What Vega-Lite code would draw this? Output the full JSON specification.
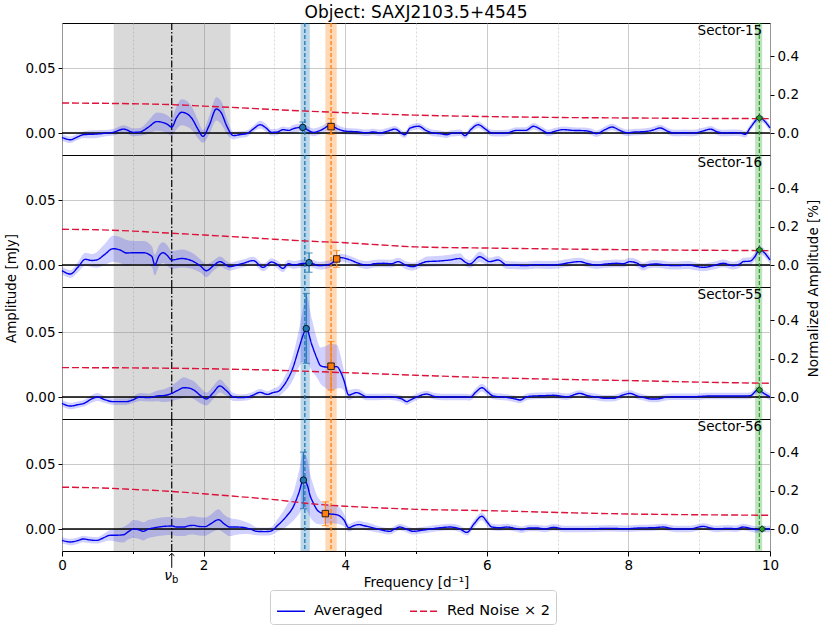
{
  "$schema": "https://vega.github.io/schema/vega-lite/v6.json",
  "padding": {"left": 4, "top": 3, "right": 5, "bottom": 5},
  "background": "white",
  "datasets": {
    "bands": [
      {"k": "grey", "a": 0.73, "b": 2.38, "c": 1.55},
      {"k": "b", "a": 3.37, "b": 3.50, "c": 3.43},
      {"k": "o", "a": 3.72, "b": 3.88, "c": 3.80},
      {"k": "g", "a": 9.79, "b": 9.89, "c": 9.85}
    ],
    "peaks": [
      {"s": 15, "k": "b", "f": 3.40, "v": 0.0043, "lo": 0.0003, "hi": 0.0085},
      {"s": 15, "k": "o", "f": 3.80, "v": 0.0049, "lo": -0.0010, "hi": 0.0110},
      {"s": 15, "k": "g", "f": 9.85, "v": 0.0116, "lo": 0.0106, "hi": 0.0126},
      {"s": 16, "k": "b", "f": 3.49, "v": 0.0018, "lo": -0.0056, "hi": 0.0093},
      {"s": 16, "k": "o", "f": 3.88, "v": 0.0047, "lo": -0.0018, "hi": 0.0112},
      {"s": 16, "k": "g", "f": 9.85, "v": 0.0116, "lo": 0.0106, "hi": 0.0126},
      {"s": 55, "k": "b", "f": 3.45, "v": 0.0529, "lo": 0.0260, "hi": 0.0800},
      {"s": 55, "k": "o", "f": 3.80, "v": 0.0238, "lo": 0.0054, "hi": 0.0429},
      {"s": 55, "k": "g", "f": 9.85, "v": 0.0054, "lo": 0.0040, "hi": 0.0068},
      {"s": 56, "k": "b", "f": 3.41, "v": 0.0378, "lo": 0.0158, "hi": 0.0594},
      {"s": 56, "k": "o", "f": 3.72, "v": 0.0119, "lo": 0.0026, "hi": 0.0210},
      {"s": 56, "k": "g", "f": 9.89, "v": 0.0000, "lo": -0.0015, "hi": 0.0015}
    ],
    "curves": [
      {"s":15,"n":"Averaged","f":0.00,"v":-0.0034,"e":0.0025},
      {"s":15,"n":"Averaged","f":0.12,"v":-0.0052,"e":0.0025},
      {"s":15,"n":"Averaged","f":0.22,"v":-0.0030,"e":0.0025},
      {"s":15,"n":"Averaged","f":0.30,"v":-0.0013,"e":0.0025},
      {"s":15,"n":"Averaged","f":0.40,"v":-0.0010,"e":0.003},
      {"s":15,"n":"Averaged","f":0.49,"v":-0.0008,"e":0.003},
      {"s":15,"n":"Averaged","f":0.60,"v":-0.0002,"e":0.0025},
      {"s":15,"n":"Averaged","f":0.72,"v":0.0005,"e":0.0025},
      {"s":15,"n":"Averaged","f":0.87,"v":0.0030,"e":0.003},
      {"s":15,"n":"Averaged","f":1.01,"v":0.0005,"e":0.003},
      {"s":15,"n":"Averaged","f":1.10,"v":0.0008,"e":0.003},
      {"s":15,"n":"Averaged","f":1.22,"v":0.0045,"e":0.005},
      {"s":15,"n":"Averaged","f":1.34,"v":0.0088,"e":0.007},
      {"s":15,"n":"Averaged","f":1.48,"v":0.0070,"e":0.007},
      {"s":15,"n":"Averaged","f":1.55,"v":0.0046,"e":0.007},
      {"s":15,"n":"Averaged","f":1.62,"v":0.0120,"e":0.009},
      {"s":15,"n":"Averaged","f":1.69,"v":0.0160,"e":0.010},
      {"s":15,"n":"Averaged","f":1.76,"v":0.0150,"e":0.010},
      {"s":15,"n":"Averaged","f":1.83,"v":0.0116,"e":0.009},
      {"s":15,"n":"Averaged","f":1.92,"v":0.0030,"e":0.007},
      {"s":15,"n":"Averaged","f":1.99,"v":-0.0026,"e":0.005},
      {"s":15,"n":"Averaged","f":2.08,"v":0.0060,"e":0.007},
      {"s":15,"n":"Averaged","f":2.18,"v":0.0186,"e":0.009},
      {"s":15,"n":"Averaged","f":2.25,"v":0.0155,"e":0.009},
      {"s":15,"n":"Averaged","f":2.33,"v":0.0050,"e":0.006},
      {"s":15,"n":"Averaged","f":2.42,"v":-0.0020,"e":0.003},
      {"s":15,"n":"Averaged","f":2.52,"v":-0.0012,"e":0.0025},
      {"s":15,"n":"Averaged","f":2.61,"v":-0.0005,"e":0.0025},
      {"s":15,"n":"Averaged","f":2.70,"v":0.0030,"e":0.0025},
      {"s":15,"n":"Averaged","f":2.80,"v":0.0064,"e":0.003},
      {"s":15,"n":"Averaged","f":2.88,"v":0.0040,"e":0.003},
      {"s":15,"n":"Averaged","f":2.96,"v":0.0005,"e":0.0025},
      {"s":15,"n":"Averaged","f":3.04,"v":0.0008,"e":0.0025},
      {"s":15,"n":"Averaged","f":3.12,"v":0.0026,"e":0.0025},
      {"s":15,"n":"Averaged","f":3.20,"v":0.0020,"e":0.0025},
      {"s":15,"n":"Averaged","f":3.27,"v":0.0034,"e":0.003},
      {"s":15,"n":"Averaged","f":3.40,"v":0.0044,"e":0.003},
      {"s":15,"n":"Averaged","f":3.48,"v":0.0020,"e":0.003},
      {"s":15,"n":"Averaged","f":3.55,"v":0.0005,"e":0.003},
      {"s":15,"n":"Averaged","f":3.65,"v":0.0020,"e":0.003},
      {"s":15,"n":"Averaged","f":3.79,"v":0.0057,"e":0.003},
      {"s":15,"n":"Averaged","f":3.90,"v":0.0030,"e":0.003},
      {"s":15,"n":"Averaged","f":4.02,"v":0.0013,"e":0.0025},
      {"s":15,"n":"Averaged","f":4.15,"v":0.0010,"e":0.0025},
      {"s":15,"n":"Averaged","f":4.30,"v":0.0002,"e":0.0025},
      {"s":15,"n":"Averaged","f":4.40,"v":0.0008,"e":0.0025},
      {"s":15,"n":"Averaged","f":4.49,"v":0.0000,"e":0.0025},
      {"s":15,"n":"Averaged","f":4.60,"v":0.0015,"e":0.0025},
      {"s":15,"n":"Averaged","f":4.70,"v":0.0030,"e":0.0025},
      {"s":15,"n":"Averaged","f":4.84,"v":-0.0013,"e":0.0025},
      {"s":15,"n":"Averaged","f":4.92,"v":0.0039,"e":0.0025},
      {"s":15,"n":"Averaged","f":5.04,"v":0.0052,"e":0.0025},
      {"s":15,"n":"Averaged","f":5.14,"v":0.0020,"e":0.0025},
      {"s":15,"n":"Averaged","f":5.24,"v":0.0000,"e":0.0025},
      {"s":15,"n":"Averaged","f":5.34,"v":-0.0005,"e":0.0025},
      {"s":15,"n":"Averaged","f":5.43,"v":-0.0013,"e":0.0025},
      {"s":15,"n":"Averaged","f":5.50,"v":-0.0003,"e":0.0025},
      {"s":15,"n":"Averaged","f":5.57,"v":0.0000,"e":0.0025},
      {"s":15,"n":"Averaged","f":5.63,"v":0.0002,"e":0.0025},
      {"s":15,"n":"Averaged","f":5.69,"v":-0.0020,"e":0.0025},
      {"s":15,"n":"Averaged","f":5.78,"v":0.0030,"e":0.0025},
      {"s":15,"n":"Averaged","f":5.88,"v":0.0064,"e":0.0025},
      {"s":15,"n":"Averaged","f":5.98,"v":0.0030,"e":0.0025},
      {"s":15,"n":"Averaged","f":6.07,"v":0.0000,"e":0.0025},
      {"s":15,"n":"Averaged","f":6.18,"v":-0.0002,"e":0.0025},
      {"s":15,"n":"Averaged","f":6.28,"v":0.0000,"e":0.0025},
      {"s":15,"n":"Averaged","f":6.42,"v":0.0020,"e":0.0025},
      {"s":15,"n":"Averaged","f":6.55,"v":0.0020,"e":0.0025},
      {"s":15,"n":"Averaged","f":6.66,"v":0.0052,"e":0.0025},
      {"s":15,"n":"Averaged","f":6.77,"v":0.0025,"e":0.0025},
      {"s":15,"n":"Averaged","f":6.87,"v":0.0000,"e":0.0025},
      {"s":15,"n":"Averaged","f":6.97,"v":0.0015,"e":0.0025},
      {"s":15,"n":"Averaged","f":7.08,"v":0.0026,"e":0.0025},
      {"s":15,"n":"Averaged","f":7.22,"v":0.0020,"e":0.0025},
      {"s":15,"n":"Averaged","f":7.37,"v":0.0018,"e":0.0025},
      {"s":15,"n":"Averaged","f":7.47,"v":0.0010,"e":0.0025},
      {"s":15,"n":"Averaged","f":7.55,"v":-0.0005,"e":0.0025},
      {"s":15,"n":"Averaged","f":7.65,"v":0.0020,"e":0.0025},
      {"s":15,"n":"Averaged","f":7.77,"v":0.0046,"e":0.0025},
      {"s":15,"n":"Averaged","f":7.88,"v":0.0020,"e":0.0025},
      {"s":15,"n":"Averaged","f":7.98,"v":0.0002,"e":0.0025},
      {"s":15,"n":"Averaged","f":8.10,"v":0.0008,"e":0.0025},
      {"s":15,"n":"Averaged","f":8.21,"v":0.0010,"e":0.0025},
      {"s":15,"n":"Averaged","f":8.33,"v":0.0020,"e":0.0025},
      {"s":15,"n":"Averaged","f":8.45,"v":0.0039,"e":0.0025},
      {"s":15,"n":"Averaged","f":8.55,"v":0.0015,"e":0.0025},
      {"s":15,"n":"Averaged","f":8.64,"v":0.0000,"e":0.0025},
      {"s":15,"n":"Averaged","f":8.80,"v":0.0002,"e":0.0025},
      {"s":15,"n":"Averaged","f":8.92,"v":0.0000,"e":0.0025},
      {"s":15,"n":"Averaged","f":9.05,"v":0.0015,"e":0.0025},
      {"s":15,"n":"Averaged","f":9.16,"v":0.0030,"e":0.0025},
      {"s":15,"n":"Averaged","f":9.25,"v":0.0010,"e":0.0025},
      {"s":15,"n":"Averaged","f":9.34,"v":0.0000,"e":0.0025},
      {"s":15,"n":"Averaged","f":9.46,"v":0.0002,"e":0.0025},
      {"s":15,"n":"Averaged","f":9.58,"v":0.0000,"e":0.0025},
      {"s":15,"n":"Averaged","f":9.65,"v":-0.0010,"e":0.0025},
      {"s":15,"n":"Averaged","f":9.72,"v":0.0040,"e":0.0025},
      {"s":15,"n":"Averaged","f":9.85,"v":0.0116,"e":0.0025},
      {"s":15,"n":"Averaged","f":10.00,"v":0.0039,"e":0.0025},

      {"s":16,"n":"Averaged","f":0.00,"v":-0.0044,"e":0.003},
      {"s":16,"n":"Averaged","f":0.12,"v":-0.0070,"e":0.003},
      {"s":16,"n":"Averaged","f":0.22,"v":-0.0020,"e":0.004},
      {"s":16,"n":"Averaged","f":0.33,"v":0.0044,"e":0.005},
      {"s":16,"n":"Averaged","f":0.42,"v":0.0035,"e":0.005},
      {"s":16,"n":"Averaged","f":0.49,"v":0.0039,"e":0.006},
      {"s":16,"n":"Averaged","f":0.60,"v":0.0080,"e":0.008},
      {"s":16,"n":"Averaged","f":0.72,"v":0.0126,"e":0.010},
      {"s":16,"n":"Averaged","f":0.82,"v":0.0116,"e":0.010},
      {"s":16,"n":"Averaged","f":0.91,"v":0.0093,"e":0.010},
      {"s":16,"n":"Averaged","f":1.02,"v":0.0095,"e":0.009},
      {"s":16,"n":"Averaged","f":1.15,"v":0.0095,"e":0.009},
      {"s":16,"n":"Averaged","f":1.27,"v":0.0065,"e":0.008},
      {"s":16,"n":"Averaged","f":1.31,"v":0.0000,"e":0.008},
      {"s":16,"n":"Averaged","f":1.37,"v":0.0070,"e":0.008},
      {"s":16,"n":"Averaged","f":1.43,"v":0.0095,"e":0.008},
      {"s":16,"n":"Averaged","f":1.48,"v":0.0077,"e":0.008},
      {"s":16,"n":"Averaged","f":1.55,"v":0.0039,"e":0.007},
      {"s":16,"n":"Averaged","f":1.69,"v":0.0050,"e":0.007},
      {"s":16,"n":"Averaged","f":1.86,"v":0.0026,"e":0.006},
      {"s":16,"n":"Averaged","f":1.96,"v":-0.0010,"e":0.005},
      {"s":16,"n":"Averaged","f":2.04,"v":-0.0044,"e":0.005},
      {"s":16,"n":"Averaged","f":2.14,"v":-0.0005,"e":0.004},
      {"s":16,"n":"Averaged","f":2.23,"v":0.0026,"e":0.004},
      {"s":16,"n":"Averaged","f":2.37,"v":-0.0013,"e":0.003},
      {"s":16,"n":"Averaged","f":2.47,"v":0.0000,"e":0.003},
      {"s":16,"n":"Averaged","f":2.56,"v":0.0013,"e":0.003},
      {"s":16,"n":"Averaged","f":2.70,"v":0.0034,"e":0.003},
      {"s":16,"n":"Averaged","f":2.84,"v":-0.0018,"e":0.003},
      {"s":16,"n":"Averaged","f":2.96,"v":0.0023,"e":0.003},
      {"s":16,"n":"Averaged","f":3.04,"v":0.0005,"e":0.003},
      {"s":16,"n":"Averaged","f":3.12,"v":-0.0026,"e":0.003},
      {"s":16,"n":"Averaged","f":3.20,"v":0.0010,"e":0.003},
      {"s":16,"n":"Averaged","f":3.27,"v":0.0000,"e":0.003},
      {"s":16,"n":"Averaged","f":3.38,"v":0.0010,"e":0.003},
      {"s":16,"n":"Averaged","f":3.50,"v":0.0015,"e":0.003},
      {"s":16,"n":"Averaged","f":3.64,"v":-0.0005,"e":0.003},
      {"s":16,"n":"Averaged","f":3.72,"v":0.0000,"e":0.003},
      {"s":16,"n":"Averaged","f":3.79,"v":0.0008,"e":0.003},
      {"s":16,"n":"Averaged","f":3.88,"v":0.0042,"e":0.003},
      {"s":16,"n":"Averaged","f":3.93,"v":0.0057,"e":0.003},
      {"s":16,"n":"Averaged","f":4.07,"v":0.0039,"e":0.003},
      {"s":16,"n":"Averaged","f":4.18,"v":0.0015,"e":0.003},
      {"s":16,"n":"Averaged","f":4.30,"v":0.0000,"e":0.003},
      {"s":16,"n":"Averaged","f":4.42,"v":0.0010,"e":0.003},
      {"s":16,"n":"Averaged","f":4.54,"v":0.0013,"e":0.003},
      {"s":16,"n":"Averaged","f":4.65,"v":0.0010,"e":0.003},
      {"s":16,"n":"Averaged","f":4.75,"v":0.0026,"e":0.003},
      {"s":16,"n":"Averaged","f":4.85,"v":0.0000,"e":0.003},
      {"s":16,"n":"Averaged","f":4.96,"v":-0.0013,"e":0.003},
      {"s":16,"n":"Averaged","f":5.06,"v":0.0010,"e":0.003},
      {"s":16,"n":"Averaged","f":5.15,"v":0.0026,"e":0.004},
      {"s":16,"n":"Averaged","f":5.30,"v":0.0030,"e":0.004},
      {"s":16,"n":"Averaged","f":5.48,"v":0.0039,"e":0.004},
      {"s":16,"n":"Averaged","f":5.62,"v":0.0050,"e":0.004},
      {"s":16,"n":"Averaged","f":5.70,"v":0.0020,"e":0.003},
      {"s":16,"n":"Averaged","f":5.76,"v":0.0008,"e":0.003},
      {"s":16,"n":"Averaged","f":5.90,"v":0.0064,"e":0.004},
      {"s":16,"n":"Averaged","f":6.04,"v":0.0026,"e":0.003},
      {"s":16,"n":"Averaged","f":6.16,"v":0.0039,"e":0.003},
      {"s":16,"n":"Averaged","f":6.28,"v":0.0000,"e":0.003},
      {"s":16,"n":"Averaged","f":6.42,"v":-0.0002,"e":0.003},
      {"s":16,"n":"Averaged","f":6.56,"v":-0.0005,"e":0.003},
      {"s":16,"n":"Averaged","f":6.70,"v":0.0003,"e":0.003},
      {"s":16,"n":"Averaged","f":6.89,"v":0.0000,"e":0.003},
      {"s":16,"n":"Averaged","f":7.03,"v":0.0005,"e":0.003},
      {"s":16,"n":"Averaged","f":7.17,"v":0.0018,"e":0.003},
      {"s":16,"n":"Averaged","f":7.31,"v":0.0026,"e":0.003},
      {"s":16,"n":"Averaged","f":7.43,"v":0.0010,"e":0.003},
      {"s":16,"n":"Averaged","f":7.55,"v":0.0000,"e":0.003},
      {"s":16,"n":"Averaged","f":7.69,"v":0.0008,"e":0.003},
      {"s":16,"n":"Averaged","f":7.83,"v":0.0013,"e":0.003},
      {"s":16,"n":"Averaged","f":7.93,"v":0.0010,"e":0.003},
      {"s":16,"n":"Averaged","f":8.02,"v":0.0026,"e":0.003},
      {"s":16,"n":"Averaged","f":8.12,"v":0.0015,"e":0.003},
      {"s":16,"n":"Averaged","f":8.21,"v":-0.0013,"e":0.003},
      {"s":16,"n":"Averaged","f":8.30,"v":0.0005,"e":0.003},
      {"s":16,"n":"Averaged","f":8.40,"v":0.0008,"e":0.003},
      {"s":16,"n":"Averaged","f":8.55,"v":-0.0002,"e":0.003},
      {"s":16,"n":"Averaged","f":8.68,"v":-0.0005,"e":0.003},
      {"s":16,"n":"Averaged","f":8.85,"v":0.0000,"e":0.003},
      {"s":16,"n":"Averaged","f":8.95,"v":-0.0010,"e":0.003},
      {"s":16,"n":"Averaged","f":9.06,"v":-0.0018,"e":0.003},
      {"s":16,"n":"Averaged","f":9.20,"v":-0.0005,"e":0.003},
      {"s":16,"n":"Averaged","f":9.34,"v":0.0013,"e":0.003},
      {"s":16,"n":"Averaged","f":9.48,"v":-0.0005,"e":0.003},
      {"s":16,"n":"Averaged","f":9.58,"v":0.0010,"e":0.003},
      {"s":16,"n":"Averaged","f":9.62,"v":0.0026,"e":0.003},
      {"s":16,"n":"Averaged","f":9.72,"v":0.0030,"e":0.003},
      {"s":16,"n":"Averaged","f":9.78,"v":0.0060,"e":0.003},
      {"s":16,"n":"Averaged","f":9.85,"v":0.0116,"e":0.003},
      {"s":16,"n":"Averaged","f":10.00,"v":0.0039,"e":0.003},

      {"s":55,"n":"Averaged","f":0.00,"v":-0.0049,"e":0.0025},
      {"s":55,"n":"Averaged","f":0.12,"v":-0.0070,"e":0.0025},
      {"s":55,"n":"Averaged","f":0.22,"v":-0.0060,"e":0.0025},
      {"s":55,"n":"Averaged","f":0.31,"v":-0.0049,"e":0.0025},
      {"s":55,"n":"Averaged","f":0.42,"v":-0.0015,"e":0.003},
      {"s":55,"n":"Averaged","f":0.50,"v":0.0000,"e":0.003},
      {"s":55,"n":"Averaged","f":0.60,"v":-0.0020,"e":0.0025},
      {"s":55,"n":"Averaged","f":0.72,"v":-0.0036,"e":0.0025},
      {"s":55,"n":"Averaged","f":0.91,"v":-0.0036,"e":0.0025},
      {"s":55,"n":"Averaged","f":1.01,"v":-0.0020,"e":0.0025},
      {"s":55,"n":"Averaged","f":1.10,"v":0.0000,"e":0.003},
      {"s":55,"n":"Averaged","f":1.22,"v":-0.0005,"e":0.003},
      {"s":55,"n":"Averaged","f":1.34,"v":0.0008,"e":0.004},
      {"s":55,"n":"Averaged","f":1.45,"v":0.0012,"e":0.005},
      {"s":55,"n":"Averaged","f":1.55,"v":0.0028,"e":0.006},
      {"s":55,"n":"Averaged","f":1.63,"v":0.0050,"e":0.007},
      {"s":55,"n":"Averaged","f":1.72,"v":0.0072,"e":0.008},
      {"s":55,"n":"Averaged","f":1.80,"v":0.0068,"e":0.007},
      {"s":55,"n":"Averaged","f":1.86,"v":0.0054,"e":0.007},
      {"s":55,"n":"Averaged","f":1.96,"v":0.0010,"e":0.006},
      {"s":55,"n":"Averaged","f":2.04,"v":-0.0015,"e":0.005},
      {"s":55,"n":"Averaged","f":2.13,"v":0.0030,"e":0.005},
      {"s":55,"n":"Averaged","f":2.23,"v":0.0085,"e":0.005},
      {"s":55,"n":"Averaged","f":2.32,"v":0.0050,"e":0.004},
      {"s":55,"n":"Averaged","f":2.42,"v":0.0000,"e":0.003},
      {"s":55,"n":"Averaged","f":2.52,"v":-0.0005,"e":0.0025},
      {"s":55,"n":"Averaged","f":2.61,"v":-0.0002,"e":0.0025},
      {"s":55,"n":"Averaged","f":2.70,"v":0.0015,"e":0.0025},
      {"s":55,"n":"Averaged","f":2.80,"v":0.0036,"e":0.0025},
      {"s":55,"n":"Averaged","f":2.90,"v":0.0020,"e":0.0025},
      {"s":55,"n":"Averaged","f":2.98,"v":0.0034,"e":0.003},
      {"s":55,"n":"Averaged","f":3.06,"v":0.0045,"e":0.004},
      {"s":55,"n":"Averaged","f":3.12,"v":0.0080,"e":0.005},
      {"s":55,"n":"Averaged","f":3.19,"v":0.0140,"e":0.007},
      {"s":55,"n":"Averaged","f":3.25,"v":0.0209,"e":0.009},
      {"s":55,"n":"Averaged","f":3.34,"v":0.0364,"e":0.014},
      {"s":55,"n":"Averaged","f":3.40,"v":0.0470,"e":0.020},
      {"s":55,"n":"Averaged","f":3.45,"v":0.0529,"e":0.026},
      {"s":55,"n":"Averaged","f":3.53,"v":0.0402,"e":0.020},
      {"s":55,"n":"Averaged","f":3.60,"v":0.0300,"e":0.015},
      {"s":55,"n":"Averaged","f":3.65,"v":0.0243,"e":0.014},
      {"s":55,"n":"Averaged","f":3.72,"v":0.0232,"e":0.016},
      {"s":55,"n":"Averaged","f":3.79,"v":0.0230,"e":0.018},
      {"s":55,"n":"Averaged","f":3.88,"v":0.0235,"e":0.017},
      {"s":55,"n":"Averaged","f":3.93,"v":0.0200,"e":0.013},
      {"s":55,"n":"Averaged","f":3.98,"v":0.0132,"e":0.008},
      {"s":55,"n":"Averaged","f":4.05,"v":0.0015,"e":0.004},
      {"s":55,"n":"Averaged","f":4.16,"v":0.0034,"e":0.003},
      {"s":55,"n":"Averaged","f":4.23,"v":0.0020,"e":0.003},
      {"s":55,"n":"Averaged","f":4.30,"v":0.0000,"e":0.0025},
      {"s":55,"n":"Averaged","f":4.45,"v":0.0000,"e":0.0025},
      {"s":55,"n":"Averaged","f":4.58,"v":0.0003,"e":0.0025},
      {"s":55,"n":"Averaged","f":4.68,"v":0.0000,"e":0.0025},
      {"s":55,"n":"Averaged","f":4.80,"v":-0.0015,"e":0.0025},
      {"s":55,"n":"Averaged","f":4.87,"v":-0.0036,"e":0.0025},
      {"s":55,"n":"Averaged","f":4.92,"v":-0.0023,"e":0.0025},
      {"s":55,"n":"Averaged","f":5.03,"v":0.0005,"e":0.0025},
      {"s":55,"n":"Averaged","f":5.15,"v":0.0023,"e":0.0025},
      {"s":55,"n":"Averaged","f":5.26,"v":0.0005,"e":0.0025},
      {"s":55,"n":"Averaged","f":5.38,"v":0.0000,"e":0.0025},
      {"s":55,"n":"Averaged","f":5.57,"v":0.0000,"e":0.0025},
      {"s":55,"n":"Averaged","f":5.70,"v":0.0000,"e":0.0025},
      {"s":55,"n":"Averaged","f":5.76,"v":-0.0003,"e":0.0025},
      {"s":55,"n":"Averaged","f":5.85,"v":0.0040,"e":0.003},
      {"s":55,"n":"Averaged","f":5.93,"v":0.0072,"e":0.003},
      {"s":55,"n":"Averaged","f":6.01,"v":0.0040,"e":0.003},
      {"s":55,"n":"Averaged","f":6.09,"v":0.0008,"e":0.0025},
      {"s":55,"n":"Averaged","f":6.28,"v":-0.0003,"e":0.0025},
      {"s":55,"n":"Averaged","f":6.40,"v":-0.0015,"e":0.0025},
      {"s":55,"n":"Averaged","f":6.47,"v":-0.0023,"e":0.0025},
      {"s":55,"n":"Averaged","f":6.56,"v":0.0000,"e":0.0025},
      {"s":55,"n":"Averaged","f":6.66,"v":0.0008,"e":0.0025},
      {"s":55,"n":"Averaged","f":6.80,"v":0.0010,"e":0.0025},
      {"s":55,"n":"Averaged","f":6.94,"v":0.0013,"e":0.0025},
      {"s":55,"n":"Averaged","f":7.13,"v":0.0002,"e":0.0025},
      {"s":55,"n":"Averaged","f":7.31,"v":0.0028,"e":0.0025},
      {"s":55,"n":"Averaged","f":7.43,"v":0.0010,"e":0.0025},
      {"s":55,"n":"Averaged","f":7.55,"v":0.0000,"e":0.0025},
      {"s":55,"n":"Averaged","f":7.67,"v":-0.0010,"e":0.0025},
      {"s":55,"n":"Averaged","f":7.79,"v":-0.0010,"e":0.0025},
      {"s":55,"n":"Averaged","f":7.92,"v":0.0015,"e":0.0025},
      {"s":55,"n":"Averaged","f":8.02,"v":0.0028,"e":0.0025},
      {"s":55,"n":"Averaged","f":8.12,"v":0.0010,"e":0.0025},
      {"s":55,"n":"Averaged","f":8.21,"v":-0.0003,"e":0.0025},
      {"s":55,"n":"Averaged","f":8.32,"v":-0.0015,"e":0.0025},
      {"s":55,"n":"Averaged","f":8.40,"v":-0.0015,"e":0.0025},
      {"s":55,"n":"Averaged","f":8.55,"v":0.0000,"e":0.0025},
      {"s":55,"n":"Averaged","f":8.68,"v":0.0002,"e":0.0025},
      {"s":55,"n":"Averaged","f":8.90,"v":0.0002,"e":0.0025},
      {"s":55,"n":"Averaged","f":9.16,"v":0.0008,"e":0.0025},
      {"s":55,"n":"Averaged","f":9.40,"v":0.0008,"e":0.0025},
      {"s":55,"n":"Averaged","f":9.62,"v":0.0008,"e":0.0025},
      {"s":55,"n":"Averaged","f":9.72,"v":0.0010,"e":0.0025},
      {"s":55,"n":"Averaged","f":9.83,"v":0.0054,"e":0.0025},
      {"s":55,"n":"Averaged","f":9.92,"v":0.0025,"e":0.0025},
      {"s":55,"n":"Averaged","f":10.00,"v":0.0000,"e":0.0025},

      {"s":56,"n":"Averaged","f":0.00,"v":-0.0088,"e":0.0025},
      {"s":56,"n":"Averaged","f":0.12,"v":-0.0100,"e":0.0025},
      {"s":56,"n":"Averaged","f":0.22,"v":-0.0090,"e":0.0025},
      {"s":56,"n":"Averaged","f":0.30,"v":-0.0077,"e":0.0025},
      {"s":56,"n":"Averaged","f":0.40,"v":-0.0085,"e":0.0025},
      {"s":56,"n":"Averaged","f":0.49,"v":-0.0088,"e":0.0025},
      {"s":56,"n":"Averaged","f":0.58,"v":-0.0070,"e":0.003},
      {"s":56,"n":"Averaged","f":0.67,"v":-0.0049,"e":0.004},
      {"s":56,"n":"Averaged","f":0.77,"v":-0.0048,"e":0.005},
      {"s":56,"n":"Averaged","f":0.87,"v":-0.0044,"e":0.006},
      {"s":56,"n":"Averaged","f":0.94,"v":-0.0020,"e":0.006},
      {"s":56,"n":"Averaged","f":1.01,"v":0.0000,"e":0.007},
      {"s":56,"n":"Averaged","f":1.08,"v":-0.0005,"e":0.007},
      {"s":56,"n":"Averaged","f":1.15,"v":-0.0018,"e":0.007},
      {"s":56,"n":"Averaged","f":1.22,"v":0.0000,"e":0.007},
      {"s":56,"n":"Averaged","f":1.29,"v":0.0008,"e":0.007},
      {"s":56,"n":"Averaged","f":1.36,"v":0.0015,"e":0.007},
      {"s":56,"n":"Averaged","f":1.43,"v":0.0020,"e":0.007},
      {"s":56,"n":"Averaged","f":1.55,"v":0.0023,"e":0.007},
      {"s":56,"n":"Averaged","f":1.63,"v":0.0015,"e":0.007},
      {"s":56,"n":"Averaged","f":1.72,"v":0.0015,"e":0.007},
      {"s":56,"n":"Averaged","f":1.79,"v":0.0025,"e":0.007},
      {"s":56,"n":"Averaged","f":1.86,"v":0.0028,"e":0.007},
      {"s":56,"n":"Averaged","f":1.93,"v":0.0020,"e":0.007},
      {"s":56,"n":"Averaged","f":2.02,"v":0.0018,"e":0.007},
      {"s":56,"n":"Averaged","f":2.10,"v":0.0040,"e":0.007},
      {"s":56,"n":"Averaged","f":2.21,"v":0.0072,"e":0.008},
      {"s":56,"n":"Averaged","f":2.29,"v":0.0040,"e":0.007},
      {"s":56,"n":"Averaged","f":2.37,"v":0.0015,"e":0.007},
      {"s":56,"n":"Averaged","f":2.47,"v":0.0015,"e":0.006},
      {"s":56,"n":"Averaged","f":2.56,"v":0.0012,"e":0.005},
      {"s":56,"n":"Averaged","f":2.66,"v":0.0000,"e":0.004},
      {"s":56,"n":"Averaged","f":2.75,"v":-0.0018,"e":0.003},
      {"s":56,"n":"Averaged","f":2.86,"v":-0.0020,"e":0.003},
      {"s":56,"n":"Averaged","f":2.94,"v":-0.0018,"e":0.003},
      {"s":56,"n":"Averaged","f":3.05,"v":0.0030,"e":0.005},
      {"s":56,"n":"Averaged","f":3.17,"v":0.0098,"e":0.008},
      {"s":56,"n":"Averaged","f":3.27,"v":0.0175,"e":0.011},
      {"s":56,"n":"Averaged","f":3.34,"v":0.0270,"e":0.016},
      {"s":56,"n":"Averaged","f":3.41,"v":0.0377,"e":0.021},
      {"s":56,"n":"Averaged","f":3.47,"v":0.0330,"e":0.020},
      {"s":56,"n":"Averaged","f":3.50,"v":0.0266,"e":0.017},
      {"s":56,"n":"Averaged","f":3.55,"v":0.0200,"e":0.014},
      {"s":56,"n":"Averaged","f":3.60,"v":0.0150,"e":0.011},
      {"s":56,"n":"Averaged","f":3.66,"v":0.0125,"e":0.009},
      {"s":56,"n":"Averaged","f":3.72,"v":0.0119,"e":0.008},
      {"s":56,"n":"Averaged","f":3.80,"v":0.0115,"e":0.007},
      {"s":56,"n":"Averaged","f":3.88,"v":0.0110,"e":0.007},
      {"s":56,"n":"Averaged","f":3.98,"v":0.0072,"e":0.005},
      {"s":56,"n":"Averaged","f":4.05,"v":0.0010,"e":0.003},
      {"s":56,"n":"Averaged","f":4.12,"v":0.0025,"e":0.003},
      {"s":56,"n":"Averaged","f":4.19,"v":0.0034,"e":0.003},
      {"s":56,"n":"Averaged","f":4.27,"v":0.0025,"e":0.003},
      {"s":56,"n":"Averaged","f":4.35,"v":0.0015,"e":0.003},
      {"s":56,"n":"Averaged","f":4.49,"v":-0.0005,"e":0.0025},
      {"s":56,"n":"Averaged","f":4.63,"v":-0.0018,"e":0.0025},
      {"s":56,"n":"Averaged","f":4.70,"v":0.0000,"e":0.0025},
      {"s":56,"n":"Averaged","f":4.77,"v":0.0015,"e":0.0025},
      {"s":56,"n":"Averaged","f":4.86,"v":0.0000,"e":0.0025},
      {"s":56,"n":"Averaged","f":4.96,"v":-0.0018,"e":0.0025},
      {"s":56,"n":"Averaged","f":5.08,"v":-0.0010,"e":0.0025},
      {"s":56,"n":"Averaged","f":5.21,"v":0.0000,"e":0.0025},
      {"s":56,"n":"Averaged","f":5.35,"v":0.0010,"e":0.0025},
      {"s":56,"n":"Averaged","f":5.48,"v":0.0015,"e":0.0025},
      {"s":56,"n":"Averaged","f":5.60,"v":0.0005,"e":0.0025},
      {"s":56,"n":"Averaged","f":5.72,"v":-0.0026,"e":0.0025},
      {"s":56,"n":"Averaged","f":5.82,"v":0.0040,"e":0.003},
      {"s":56,"n":"Averaged","f":5.93,"v":0.0098,"e":0.003},
      {"s":56,"n":"Averaged","f":6.01,"v":0.0050,"e":0.003},
      {"s":56,"n":"Averaged","f":6.07,"v":0.0015,"e":0.0025},
      {"s":56,"n":"Averaged","f":6.18,"v":0.0010,"e":0.0025},
      {"s":56,"n":"Averaged","f":6.28,"v":0.0015,"e":0.0025},
      {"s":56,"n":"Averaged","f":6.40,"v":0.0005,"e":0.0025},
      {"s":56,"n":"Averaged","f":6.49,"v":-0.0005,"e":0.0025},
      {"s":56,"n":"Averaged","f":6.60,"v":0.0008,"e":0.0025},
      {"s":56,"n":"Averaged","f":6.70,"v":0.0008,"e":0.0025},
      {"s":56,"n":"Averaged","f":6.82,"v":0.0000,"e":0.0025},
      {"s":56,"n":"Averaged","f":6.94,"v":0.0013,"e":0.0025},
      {"s":56,"n":"Averaged","f":7.10,"v":0.0000,"e":0.0025},
      {"s":56,"n":"Averaged","f":7.27,"v":0.0000,"e":0.0025},
      {"s":56,"n":"Averaged","f":7.50,"v":0.0002,"e":0.0025},
      {"s":56,"n":"Averaged","f":7.74,"v":0.0005,"e":0.0025},
      {"s":56,"n":"Averaged","f":7.95,"v":0.0002,"e":0.0025},
      {"s":56,"n":"Averaged","f":8.16,"v":0.0008,"e":0.0025},
      {"s":56,"n":"Averaged","f":8.35,"v":0.0010,"e":0.0025},
      {"s":56,"n":"Averaged","f":8.49,"v":0.0015,"e":0.0025},
      {"s":56,"n":"Averaged","f":8.60,"v":0.0005,"e":0.0025},
      {"s":56,"n":"Averaged","f":8.68,"v":0.0000,"e":0.0025},
      {"s":56,"n":"Averaged","f":8.85,"v":0.0000,"e":0.0025},
      {"s":56,"n":"Averaged","f":9.06,"v":0.0020,"e":0.0025},
      {"s":56,"n":"Averaged","f":9.16,"v":0.0008,"e":0.0025},
      {"s":56,"n":"Averaged","f":9.25,"v":0.0000,"e":0.0025},
      {"s":56,"n":"Averaged","f":9.40,"v":0.0005,"e":0.0025},
      {"s":56,"n":"Averaged","f":9.52,"v":0.0002,"e":0.0025},
      {"s":56,"n":"Averaged","f":9.62,"v":0.0015,"e":0.0025},
      {"s":56,"n":"Averaged","f":9.72,"v":0.0005,"e":0.0025},
      {"s":56,"n":"Averaged","f":9.81,"v":-0.0005,"e":0.0025},
      {"s":56,"n":"Averaged","f":9.90,"v":0.0000,"e":0.0025},
      {"s":56,"n":"Averaged","f":10.00,"v":0.0000,"e":0.0025},

      {"s":15,"n":"Red Noise × 2","f":0,"v":0.0232},
      {"s":15,"n":"Red Noise × 2","f":1,"v":0.0226},
      {"s":15,"n":"Red Noise × 2","f":1.5,"v":0.0220},
      {"s":15,"n":"Red Noise × 2","f":2,"v":0.0208},
      {"s":15,"n":"Red Noise × 2","f":2.5,"v":0.0195},
      {"s":15,"n":"Red Noise × 2","f":3,"v":0.0181},
      {"s":15,"n":"Red Noise × 2","f":3.5,"v":0.0168},
      {"s":15,"n":"Red Noise × 2","f":4,"v":0.0157},
      {"s":15,"n":"Red Noise × 2","f":4.5,"v":0.0146},
      {"s":15,"n":"Red Noise × 2","f":5,"v":0.0138},
      {"s":15,"n":"Red Noise × 2","f":6,"v":0.0127},
      {"s":15,"n":"Red Noise × 2","f":7,"v":0.0120},
      {"s":15,"n":"Red Noise × 2","f":8,"v":0.0116},
      {"s":15,"n":"Red Noise × 2","f":9,"v":0.0113},
      {"s":15,"n":"Red Noise × 2","f":10,"v":0.0111},
      {"s":16,"n":"Red Noise × 2","f":0,"v":0.0276},
      {"s":16,"n":"Red Noise × 2","f":0.5,"v":0.0272},
      {"s":16,"n":"Red Noise × 2","f":1,"v":0.0262},
      {"s":16,"n":"Red Noise × 2","f":1.5,"v":0.0247},
      {"s":16,"n":"Red Noise × 2","f":2,"v":0.0232},
      {"s":16,"n":"Red Noise × 2","f":2.5,"v":0.0216},
      {"s":16,"n":"Red Noise × 2","f":3,"v":0.0199},
      {"s":16,"n":"Red Noise × 2","f":3.5,"v":0.0184},
      {"s":16,"n":"Red Noise × 2","f":4,"v":0.0172},
      {"s":16,"n":"Red Noise × 2","f":4.5,"v":0.0155},
      {"s":16,"n":"Red Noise × 2","f":5,"v":0.0140},
      {"s":16,"n":"Red Noise × 2","f":6,"v":0.0131},
      {"s":16,"n":"Red Noise × 2","f":7,"v":0.0124},
      {"s":16,"n":"Red Noise × 2","f":8,"v":0.0118},
      {"s":16,"n":"Red Noise × 2","f":9,"v":0.0114},
      {"s":16,"n":"Red Noise × 2","f":10,"v":0.0111},
      {"s":55,"n":"Red Noise × 2","f":0,"v":0.0227},
      {"s":55,"n":"Red Noise × 2","f":1,"v":0.0225},
      {"s":55,"n":"Red Noise × 2","f":2,"v":0.0219},
      {"s":55,"n":"Red Noise × 2","f":3,"v":0.0207},
      {"s":55,"n":"Red Noise × 2","f":4,"v":0.0188},
      {"s":55,"n":"Red Noise × 2","f":5,"v":0.0168},
      {"s":55,"n":"Red Noise × 2","f":6,"v":0.0150},
      {"s":55,"n":"Red Noise × 2","f":7,"v":0.0137},
      {"s":55,"n":"Red Noise × 2","f":8,"v":0.0127},
      {"s":55,"n":"Red Noise × 2","f":9,"v":0.0115},
      {"s":55,"n":"Red Noise × 2","f":10,"v":0.0106},
      {"s":56,"n":"Red Noise × 2","f":0,"v":0.0323},
      {"s":56,"n":"Red Noise × 2","f":0.5,"v":0.0318},
      {"s":56,"n":"Red Noise × 2","f":1,"v":0.0306},
      {"s":56,"n":"Red Noise × 2","f":1.5,"v":0.0292},
      {"s":56,"n":"Red Noise × 2","f":2,"v":0.0272},
      {"s":56,"n":"Red Noise × 2","f":2.5,"v":0.0250},
      {"s":56,"n":"Red Noise × 2","f":3,"v":0.0227},
      {"s":56,"n":"Red Noise × 2","f":3.5,"v":0.0196},
      {"s":56,"n":"Red Noise × 2","f":4,"v":0.0176},
      {"s":56,"n":"Red Noise × 2","f":4.5,"v":0.0163},
      {"s":56,"n":"Red Noise × 2","f":5,"v":0.0152},
      {"s":56,"n":"Red Noise × 2","f":6,"v":0.0142},
      {"s":56,"n":"Red Noise × 2","f":7,"v":0.0128},
      {"s":56,"n":"Red Noise × 2","f":8,"v":0.0116},
      {"s":56,"n":"Red Noise × 2","f":9,"v":0.0110},
      {"s":56,"n":"Red Noise × 2","f":10,"v":0.0106}
    ]
  },
  "vconcat": [
    {
      "width": 708, "height": 132,
      "title": {"text": "Object: SAXJ2103.5+4545", "fontSize": 17, "fontWeight": "normal", "anchor": "middle", "frame": "group", "offset": 0},
      "layer": [
        {
          "layer": [
            {"data": {"name": "bands"}, "mark": {"type": "rect", "opacity": 0.3},
             "encoding": {
               "x": {"field": "a", "type": "quantitative", "scale": {"domain": [0, 10], "nice": false, "zero": false},
                     "axis": {"values": [0,0.5,1,1.5,2,2.5,3,3.5,4,4.5,5,5.5,6,6.5,7,7.5,8,8.5,9,9.5,10], "labels": false, "ticks": false, "title": null, "grid": true, "gridWidth": 0.8,
                              "gridColor": {"condition": {"test": "datum.value % 2 === 0", "value": "#bdbdbd"}, "value": "#cfcfcf"},
                              "gridDash": {"condition": {"test": "datum.value % 2 === 0", "value": []}, "value": [2, 2]}}},
               "x2": {"field": "b"},
               "fill": {"field": "k", "type": "nominal", "scale": {"domain": ["grey","b","o","g"], "range": ["#808080","#1f77b4","#ff7f0e","#2ca02c"]}, "legend": null}
             }},
            {"data": {"name": "curves"}, "transform": [{"filter": "datum.s === 15 && datum.n === 'Averaged'"}],
             "mark": {"type": "errorband", "color": "blue", "opacity": 0.18, "interpolate": "monotone"},
             "encoding": {"x": {"field": "f", "type": "quantitative"}, "y": {"field": "v", "type": "quantitative", "title": null}, "yError": {"field": "e"}}},
            {"data": {"values": [{}]}, "mark": {"type": "rule", "color": "black", "strokeWidth": 1.5}, "encoding": {"y": {"datum": 0}}},
            {"data": {"name": "bands"}, "transform": [{"filter": "datum.k !== 'grey'"}],
             "mark": {"type": "rule", "strokeDash": [4, 2], "strokeWidth": 1.3},
             "encoding": {"x": {"field": "c", "type": "quantitative"}, "stroke": {"field": "k", "type": "nominal", "scale": {"domain": ["b","o","g"], "range": ["#1f77b4","#ff7f0e","#2ca02c"]}, "legend": null}}},
            {"data": {"name": "bands"}, "transform": [{"filter": "datum.k === 'grey'"}],
             "mark": {"type": "rule", "color": "black", "strokeDash": [7, 2, 1.5, 2], "strokeWidth": 1.2},
             "encoding": {"x": {"field": "c", "type": "quantitative"}}},
            {"data": {"name": "curves"}, "transform": [{"filter": "datum.s === 15"}],
             "mark": {"type": "line", "strokeWidth": 1.4, "interpolate": "monotone"},
             "encoding": {
               "x": {"field": "f", "type": "quantitative"},
               "y": {"field": "v", "type": "quantitative", "scale": {"domain": [-0.017, 0.085], "nice": false, "zero": false},
                     "axis": {"values": [0, 0.05], "format": ".2f", "grid": true, "gridColor": "#bdbdbd", "gridWidth": 0.8, "tickSize": 4, "labelPadding": 3, "title": null}},
               "color": {"field": "n", "type": "nominal", "scale": {"domain": ["Averaged", "Red Noise × 2"], "range": ["#0000ee", "#dc143c"]},
                         "legend": {"title": null, "orient": "none", "legendX": 208, "legendY": 567, "direction": "horizontal", "symbolType": "stroke", "symbolSize": 780, "symbolStrokeWidth": 1.5, "labelFontSize": 14.5, "strokeColor": "#cccccc", "cornerRadius": 3, "padding": 6, "columnPadding": 24, "labelOffset": 8, "fillColor": "white"}},
               "strokeDash": {"field": "n", "type": "nominal", "scale": {"domain": ["Averaged", "Red Noise × 2"], "range": [[1, 0], [7, 3]]},
                         "legend": {"title": null, "orient": "none", "legendX": 208, "legendY": 567, "direction": "horizontal", "symbolType": "stroke", "symbolSize": 780, "symbolStrokeWidth": 1.5, "labelFontSize": 14.5, "strokeColor": "#cccccc", "cornerRadius": 3, "padding": 6, "columnPadding": 24, "labelOffset": 8, "fillColor": "white"}}
             }},
            {"data": {"name": "peaks"}, "transform": [{"filter": "datum.s === 15"}],
             "mark": {"type": "rule", "strokeWidth": 1.2},
             "encoding": {"x": {"field": "f", "type": "quantitative"}, "y": {"field": "lo", "type": "quantitative"}, "y2": {"field": "hi"}, "stroke": {"field": "k", "type": "nominal", "legend": null}}},
            {"data": {"name": "peaks"}, "transform": [{"filter": "datum.s === 15"}],
             "mark": {"type": "tick", "orient": "horizontal", "size": 7, "thickness": 1.2},
             "encoding": {"x": {"field": "f", "type": "quantitative"}, "y": {"field": "lo", "type": "quantitative"}, "fill": {"field": "k", "type": "nominal", "legend": null}}},
            {"data": {"name": "peaks"}, "transform": [{"filter": "datum.s === 15"}],
             "mark": {"type": "tick", "orient": "horizontal", "size": 7, "thickness": 1.2},
             "encoding": {"x": {"field": "f", "type": "quantitative"}, "y": {"field": "hi", "type": "quantitative"}, "fill": {"field": "k", "type": "nominal", "legend": null}}},
            {"data": {"name": "peaks"}, "transform": [{"filter": "datum.s === 15"}],
             "mark": {"type": "point", "filled": true, "stroke": "black", "strokeWidth": 0.8, "size": 42, "opacity": 1},
             "encoding": {"x": {"field": "f", "type": "quantitative"}, "y": {"field": "v", "type": "quantitative"},
                          "fill": {"field": "k", "type": "nominal", "legend": null},
                          "shape": {"field": "k", "type": "nominal", "scale": {"domain": ["b","o","g"], "range": ["circle","square","diamond"]}, "legend": null}}},
            {"data": {"values": [{"t": "Sector-15"}]}, "mark": {"type": "text", "align": "right", "baseline": "top", "fontSize": 13.5, "dy": 1},
             "encoding": {"x": {"datum": 9.89}, "y": {"datum": 0.085}, "text": {"field": "t"}}}
          ]
        },
        {"data": {"values": [{}]}, "mark": {"type": "point", "opacity": 0},
         "encoding": {"y": {"datum": 0, "type": "quantitative", "scale": {"domain": [-0.1147, 0.5735], "nice": false, "zero": false},
                            "axis": {"orient": "right", "values": [0, 0.2, 0.4], "format": ".1f", "grid": false, "tickSize": 4, "labelPadding": 3, "title": null}}}}
      ],
      "resolve": {"scale": {"y": "independent"}}
    },
    {
      "width": 708, "height": 132,
      "layer": [
        {
          "layer": [
            {"data": {"name": "bands"}, "mark": {"type": "rect", "opacity": 0.3},
             "encoding": {
               "x": {"field": "a", "type": "quantitative", "scale": {"domain": [0, 10], "nice": false, "zero": false},
                     "axis": {"values": [0,0.5,1,1.5,2,2.5,3,3.5,4,4.5,5,5.5,6,6.5,7,7.5,8,8.5,9,9.5,10], "labels": false, "ticks": false, "title": null, "grid": true, "gridWidth": 0.8,
                              "gridColor": {"condition": {"test": "datum.value % 2 === 0", "value": "#bdbdbd"}, "value": "#cfcfcf"},
                              "gridDash": {"condition": {"test": "datum.value % 2 === 0", "value": []}, "value": [2, 2]}}},
               "x2": {"field": "b"},
               "fill": {"field": "k", "type": "nominal", "scale": {"domain": ["grey","b","o","g"], "range": ["#808080","#1f77b4","#ff7f0e","#2ca02c"]}, "legend": null}
             }},
            {"data": {"name": "curves"}, "transform": [{"filter": "datum.s === 16 && datum.n === 'Averaged'"}],
             "mark": {"type": "errorband", "color": "blue", "opacity": 0.18, "interpolate": "monotone"},
             "encoding": {"x": {"field": "f", "type": "quantitative"}, "y": {"field": "v", "type": "quantitative", "title": "Amplitude [mJy]"}, "yError": {"field": "e"}}},
            {"data": {"values": [{}]}, "mark": {"type": "rule", "color": "black", "strokeWidth": 1.5}, "encoding": {"y": {"datum": 0}}},
            {"data": {"name": "bands"}, "transform": [{"filter": "datum.k !== 'grey'"}],
             "mark": {"type": "rule", "strokeDash": [4, 2], "strokeWidth": 1.3},
             "encoding": {"x": {"field": "c", "type": "quantitative"}, "stroke": {"field": "k", "type": "nominal", "scale": {"domain": ["b","o","g"], "range": ["#1f77b4","#ff7f0e","#2ca02c"]}, "legend": null}}},
            {"data": {"name": "bands"}, "transform": [{"filter": "datum.k === 'grey'"}],
             "mark": {"type": "rule", "color": "black", "strokeDash": [7, 2, 1.5, 2], "strokeWidth": 1.2},
             "encoding": {"x": {"field": "c", "type": "quantitative"}}},
            {"data": {"name": "curves"}, "transform": [{"filter": "datum.s === 16"}],
             "mark": {"type": "line", "strokeWidth": 1.4, "interpolate": "monotone"},
             "encoding": {
               "x": {"field": "f", "type": "quantitative"},
               "y": {"field": "v", "type": "quantitative", "title": "Amplitude [mJy]", "scale": {"domain": [-0.017, 0.085], "nice": false, "zero": false},
                     "axis": {"values": [0, 0.05], "format": ".2f", "grid": true, "gridColor": "#bdbdbd", "gridWidth": 0.8, "tickSize": 4, "labelPadding": 3, "title": "Amplitude [mJy]", "titleY": 133, "titlePadding": 6}},
               "color": {"field": "n", "type": "nominal", "scale": {"domain": ["Averaged", "Red Noise × 2"], "range": ["#0000ee", "#dc143c"]},
                         "legend": {"title": null, "orient": "none", "legendX": 208, "legendY": 567, "direction": "horizontal", "symbolType": "stroke", "symbolSize": 780, "symbolStrokeWidth": 1.5, "labelFontSize": 14.5, "strokeColor": "#cccccc", "cornerRadius": 3, "padding": 6, "columnPadding": 24, "labelOffset": 8, "fillColor": "white"}},
               "strokeDash": {"field": "n", "type": "nominal", "scale": {"domain": ["Averaged", "Red Noise × 2"], "range": [[1, 0], [7, 3]]},
                         "legend": {"title": null, "orient": "none", "legendX": 208, "legendY": 567, "direction": "horizontal", "symbolType": "stroke", "symbolSize": 780, "symbolStrokeWidth": 1.5, "labelFontSize": 14.5, "strokeColor": "#cccccc", "cornerRadius": 3, "padding": 6, "columnPadding": 24, "labelOffset": 8, "fillColor": "white"}}
             }},
            {"data": {"name": "peaks"}, "transform": [{"filter": "datum.s === 16"}],
             "mark": {"type": "rule", "strokeWidth": 1.2},
             "encoding": {"x": {"field": "f", "type": "quantitative"}, "y": {"field": "lo", "type": "quantitative", "title": "Amplitude [mJy]"}, "y2": {"field": "hi"}, "stroke": {"field": "k", "type": "nominal", "legend": null}}},
            {"data": {"name": "peaks"}, "transform": [{"filter": "datum.s === 16"}],
             "mark": {"type": "tick", "orient": "horizontal", "size": 7, "thickness": 1.2},
             "encoding": {"x": {"field": "f", "type": "quantitative"}, "y": {"field": "lo", "type": "quantitative", "title": "Amplitude [mJy]"}, "fill": {"field": "k", "type": "nominal", "legend": null}}},
            {"data": {"name": "peaks"}, "transform": [{"filter": "datum.s === 16"}],
             "mark": {"type": "tick", "orient": "horizontal", "size": 7, "thickness": 1.2},
             "encoding": {"x": {"field": "f", "type": "quantitative"}, "y": {"field": "hi", "type": "quantitative", "title": "Amplitude [mJy]"}, "fill": {"field": "k", "type": "nominal", "legend": null}}},
            {"data": {"name": "peaks"}, "transform": [{"filter": "datum.s === 16"}],
             "mark": {"type": "point", "filled": true, "stroke": "black", "strokeWidth": 0.8, "size": 42, "opacity": 1},
             "encoding": {"x": {"field": "f", "type": "quantitative"}, "y": {"field": "v", "type": "quantitative", "title": "Amplitude [mJy]"},
                          "fill": {"field": "k", "type": "nominal", "legend": null},
                          "shape": {"field": "k", "type": "nominal", "scale": {"domain": ["b","o","g"], "range": ["circle","square","diamond"]}, "legend": null}}},
            {"data": {"values": [{"t": "Sector-16"}]}, "mark": {"type": "text", "align": "right", "baseline": "top", "fontSize": 13.5, "dy": 1},
             "encoding": {"x": {"datum": 9.89}, "y": {"datum": 0.085}, "text": {"field": "t"}}}
          ]
        },
        {"data": {"values": [{}]}, "mark": {"type": "point", "opacity": 0},
         "encoding": {"y": {"datum": 0, "type": "quantitative", "scale": {"domain": [-0.1147, 0.5735], "nice": false, "zero": false},
                            "axis": {"orient": "right", "values": [0, 0.2, 0.4], "format": ".1f", "grid": false, "tickSize": 4, "labelPadding": 3, "title": "Normalized Amplitude [%]", "titleY": 133, "titleAngle": 270, "titleBaseline": "top", "titlePadding": 8}}}}
      ],
      "resolve": {"scale": {"y": "independent"}}
    },
    {
      "width": 708, "height": 132,
      "layer": [
        {
          "layer": [
            {"data": {"name": "bands"}, "mark": {"type": "rect", "opacity": 0.3},
             "encoding": {
               "x": {"field": "a", "type": "quantitative", "scale": {"domain": [0, 10], "nice": false, "zero": false},
                     "axis": {"values": [0,0.5,1,1.5,2,2.5,3,3.5,4,4.5,5,5.5,6,6.5,7,7.5,8,8.5,9,9.5,10], "labels": false, "ticks": false, "title": null, "grid": true, "gridWidth": 0.8,
                              "gridColor": {"condition": {"test": "datum.value % 2 === 0", "value": "#bdbdbd"}, "value": "#cfcfcf"},
                              "gridDash": {"condition": {"test": "datum.value % 2 === 0", "value": []}, "value": [2, 2]}}},
               "x2": {"field": "b"},
               "fill": {"field": "k", "type": "nominal", "scale": {"domain": ["grey","b","o","g"], "range": ["#808080","#1f77b4","#ff7f0e","#2ca02c"]}, "legend": null}
             }},
            {"data": {"name": "curves"}, "transform": [{"filter": "datum.s === 55 && datum.n === 'Averaged'"}],
             "mark": {"type": "errorband", "color": "blue", "opacity": 0.18, "interpolate": "monotone"},
             "encoding": {"x": {"field": "f", "type": "quantitative"}, "y": {"field": "v", "type": "quantitative", "title": null}, "yError": {"field": "e"}}},
            {"data": {"values": [{}]}, "mark": {"type": "rule", "color": "black", "strokeWidth": 1.5}, "encoding": {"y": {"datum": 0}}},
            {"data": {"name": "bands"}, "transform": [{"filter": "datum.k !== 'grey'"}],
             "mark": {"type": "rule", "strokeDash": [4, 2], "strokeWidth": 1.3},
             "encoding": {"x": {"field": "c", "type": "quantitative"}, "stroke": {"field": "k", "type": "nominal", "scale": {"domain": ["b","o","g"], "range": ["#1f77b4","#ff7f0e","#2ca02c"]}, "legend": null}}},
            {"data": {"name": "bands"}, "transform": [{"filter": "datum.k === 'grey'"}],
             "mark": {"type": "rule", "color": "black", "strokeDash": [7, 2, 1.5, 2], "strokeWidth": 1.2},
             "encoding": {"x": {"field": "c", "type": "quantitative"}}},
            {"data": {"name": "curves"}, "transform": [{"filter": "datum.s === 55"}],
             "mark": {"type": "line", "strokeWidth": 1.4, "interpolate": "monotone"},
             "encoding": {
               "x": {"field": "f", "type": "quantitative"},
               "y": {"field": "v", "type": "quantitative", "scale": {"domain": [-0.017, 0.085], "nice": false, "zero": false},
                     "axis": {"values": [0, 0.05], "format": ".2f", "grid": true, "gridColor": "#bdbdbd", "gridWidth": 0.8, "tickSize": 4, "labelPadding": 3, "title": null}},
               "color": {"field": "n", "type": "nominal", "scale": {"domain": ["Averaged", "Red Noise × 2"], "range": ["#0000ee", "#dc143c"]},
                         "legend": {"title": null, "orient": "none", "legendX": 208, "legendY": 567, "direction": "horizontal", "symbolType": "stroke", "symbolSize": 780, "symbolStrokeWidth": 1.5, "labelFontSize": 14.5, "strokeColor": "#cccccc", "cornerRadius": 3, "padding": 6, "columnPadding": 24, "labelOffset": 8, "fillColor": "white"}},
               "strokeDash": {"field": "n", "type": "nominal", "scale": {"domain": ["Averaged", "Red Noise × 2"], "range": [[1, 0], [7, 3]]},
                         "legend": {"title": null, "orient": "none", "legendX": 208, "legendY": 567, "direction": "horizontal", "symbolType": "stroke", "symbolSize": 780, "symbolStrokeWidth": 1.5, "labelFontSize": 14.5, "strokeColor": "#cccccc", "cornerRadius": 3, "padding": 6, "columnPadding": 24, "labelOffset": 8, "fillColor": "white"}}
             }},
            {"data": {"name": "peaks"}, "transform": [{"filter": "datum.s === 55"}],
             "mark": {"type": "rule", "strokeWidth": 1.2},
             "encoding": {"x": {"field": "f", "type": "quantitative"}, "y": {"field": "lo", "type": "quantitative"}, "y2": {"field": "hi"}, "stroke": {"field": "k", "type": "nominal", "legend": null}}},
            {"data": {"name": "peaks"}, "transform": [{"filter": "datum.s === 55"}],
             "mark": {"type": "tick", "orient": "horizontal", "size": 7, "thickness": 1.2},
             "encoding": {"x": {"field": "f", "type": "quantitative"}, "y": {"field": "lo", "type": "quantitative"}, "fill": {"field": "k", "type": "nominal", "legend": null}}},
            {"data": {"name": "peaks"}, "transform": [{"filter": "datum.s === 55"}],
             "mark": {"type": "tick", "orient": "horizontal", "size": 7, "thickness": 1.2},
             "encoding": {"x": {"field": "f", "type": "quantitative"}, "y": {"field": "hi", "type": "quantitative"}, "fill": {"field": "k", "type": "nominal", "legend": null}}},
            {"data": {"name": "peaks"}, "transform": [{"filter": "datum.s === 55"}],
             "mark": {"type": "point", "filled": true, "stroke": "black", "strokeWidth": 0.8, "size": 42, "opacity": 1},
             "encoding": {"x": {"field": "f", "type": "quantitative"}, "y": {"field": "v", "type": "quantitative"},
                          "fill": {"field": "k", "type": "nominal", "legend": null},
                          "shape": {"field": "k", "type": "nominal", "scale": {"domain": ["b","o","g"], "range": ["circle","square","diamond"]}, "legend": null}}},
            {"data": {"values": [{"t": "Sector-55"}]}, "mark": {"type": "text", "align": "right", "baseline": "top", "fontSize": 13.5, "dy": 1},
             "encoding": {"x": {"datum": 9.89}, "y": {"datum": 0.085}, "text": {"field": "t"}}}
          ]
        },
        {"data": {"values": [{}]}, "mark": {"type": "point", "opacity": 0},
         "encoding": {"y": {"datum": 0, "type": "quantitative", "scale": {"domain": [-0.1147, 0.5735], "nice": false, "zero": false},
                            "axis": {"orient": "right", "values": [0, 0.2, 0.4], "format": ".1f", "grid": false, "tickSize": 4, "labelPadding": 3, "title": null}}}}
      ],
      "resolve": {"scale": {"y": "independent"}}
    },
    {
      "width": 708, "height": 132,
      "layer": [
        {
          "layer": [
            {"data": {"name": "bands"}, "mark": {"type": "rect", "opacity": 0.3},
             "encoding": {
               "x": {"field": "a", "type": "quantitative", "scale": {"domain": [0, 10], "nice": false, "zero": false},
                     "axis": {"values": [0,0.5,1,1.5,2,2.5,3,3.5,4,4.5,5,5.5,6,6.5,7,7.5,8,8.5,9,9.5,10], "format": "d", "labelFlush": false, "labelOverlap": false,
                              "labelExpr": "datum.value % 2 === 0 ? datum.label : ''", "labelPadding": 2,
                              "tickSize": {"condition": {"test": "datum.value % 2 === 0", "value": 5}, "value": 2.5},
                              "title": "Frequency [d⁻¹]", "titlePadding": 4, "grid": true, "gridWidth": 0.8,
                              "gridColor": {"condition": {"test": "datum.value % 2 === 0", "value": "#bdbdbd"}, "value": "#cfcfcf"},
                              "gridDash": {"condition": {"test": "datum.value % 2 === 0", "value": []}, "value": [2, 2]}}},
               "x2": {"field": "b"},
               "fill": {"field": "k", "type": "nominal", "scale": {"domain": ["grey","b","o","g"], "range": ["#808080","#1f77b4","#ff7f0e","#2ca02c"]}, "legend": null}
             }},
            {"data": {"name": "curves"}, "transform": [{"filter": "datum.s === 56 && datum.n === 'Averaged'"}],
             "mark": {"type": "errorband", "color": "blue", "opacity": 0.18, "interpolate": "monotone"},
             "encoding": {"x": {"field": "f", "type": "quantitative"}, "y": {"field": "v", "type": "quantitative", "title": null}, "yError": {"field": "e"}}},
            {"data": {"values": [{}]}, "mark": {"type": "rule", "color": "black", "strokeWidth": 1.5}, "encoding": {"y": {"datum": 0}}},
            {"data": {"name": "bands"}, "transform": [{"filter": "datum.k !== 'grey'"}],
             "mark": {"type": "rule", "strokeDash": [4, 2], "strokeWidth": 1.3},
             "encoding": {"x": {"field": "c", "type": "quantitative"}, "stroke": {"field": "k", "type": "nominal", "scale": {"domain": ["b","o","g"], "range": ["#1f77b4","#ff7f0e","#2ca02c"]}, "legend": null}}},
            {"data": {"name": "bands"}, "transform": [{"filter": "datum.k === 'grey'"}],
             "mark": {"type": "rule", "color": "black", "strokeDash": [7, 2, 1.5, 2], "strokeWidth": 1.2},
             "encoding": {"x": {"field": "c", "type": "quantitative"}}},
            {"data": {"name": "curves"}, "transform": [{"filter": "datum.s === 56"}],
             "mark": {"type": "line", "strokeWidth": 1.4, "interpolate": "monotone"},
             "encoding": {
               "x": {"field": "f", "type": "quantitative"},
               "y": {"field": "v", "type": "quantitative", "scale": {"domain": [-0.017, 0.085], "nice": false, "zero": false},
                     "axis": {"values": [0, 0.05], "format": ".2f", "grid": true, "gridColor": "#bdbdbd", "gridWidth": 0.8, "tickSize": 4, "labelPadding": 3, "title": null}},
               "color": {"field": "n", "type": "nominal", "scale": {"domain": ["Averaged", "Red Noise × 2"], "range": ["#0000ee", "#dc143c"]},
                         "legend": {"title": null, "orient": "none", "legendX": 208, "legendY": 567, "direction": "horizontal", "symbolType": "stroke", "symbolSize": 780, "symbolStrokeWidth": 1.5, "labelFontSize": 14.5, "strokeColor": "#cccccc", "cornerRadius": 3, "padding": 6, "columnPadding": 24, "labelOffset": 8, "fillColor": "white"}},
               "strokeDash": {"field": "n", "type": "nominal", "scale": {"domain": ["Averaged", "Red Noise × 2"], "range": [[1, 0], [7, 3]]},
                         "legend": {"title": null, "orient": "none", "legendX": 208, "legendY": 567, "direction": "horizontal", "symbolType": "stroke", "symbolSize": 780, "symbolStrokeWidth": 1.5, "labelFontSize": 14.5, "strokeColor": "#cccccc", "cornerRadius": 3, "padding": 6, "columnPadding": 24, "labelOffset": 8, "fillColor": "white"}}
             }},
            {"data": {"name": "peaks"}, "transform": [{"filter": "datum.s === 56"}],
             "mark": {"type": "rule", "strokeWidth": 1.2},
             "encoding": {"x": {"field": "f", "type": "quantitative"}, "y": {"field": "lo", "type": "quantitative"}, "y2": {"field": "hi"}, "stroke": {"field": "k", "type": "nominal", "legend": null}}},
            {"data": {"name": "peaks"}, "transform": [{"filter": "datum.s === 56"}],
             "mark": {"type": "tick", "orient": "horizontal", "size": 7, "thickness": 1.2},
             "encoding": {"x": {"field": "f", "type": "quantitative"}, "y": {"field": "lo", "type": "quantitative"}, "fill": {"field": "k", "type": "nominal", "legend": null}}},
            {"data": {"name": "peaks"}, "transform": [{"filter": "datum.s === 56"}],
             "mark": {"type": "tick", "orient": "horizontal", "size": 7, "thickness": 1.2},
             "encoding": {"x": {"field": "f", "type": "quantitative"}, "y": {"field": "hi", "type": "quantitative"}, "fill": {"field": "k", "type": "nominal", "legend": null}}},
            {"data": {"name": "peaks"}, "transform": [{"filter": "datum.s === 56"}],
             "mark": {"type": "point", "filled": true, "stroke": "black", "strokeWidth": 0.8, "size": 42, "opacity": 1},
             "encoding": {"x": {"field": "f", "type": "quantitative"}, "y": {"field": "v", "type": "quantitative"},
                          "fill": {"field": "k", "type": "nominal", "legend": null},
                          "shape": {"field": "k", "type": "nominal", "scale": {"domain": ["b","o","g"], "range": ["circle","square","diamond"]}, "legend": null}}},
            {"data": {"values": [{"t": "Sector-56"}]}, "mark": {"type": "text", "align": "right", "baseline": "top", "fontSize": 13.5, "dy": 1},
             "encoding": {"x": {"datum": 9.89}, "y": {"datum": 0.085}, "text": {"field": "t"}}},
            {"data": {"values": [{}]}, "mark": {"type": "rule", "color": "black", "strokeWidth": 1},
             "encoding": {"x": {"datum": 1.55}, "y": {"datum": -0.0300}, "y2": {"datum": -0.0187}}},
            {"data": {"values": [{}]}, "mark": {"type": "point", "shape": "M -1 0.9 L 0 0 L 1 0.9", "filled": false, "stroke": "black", "strokeWidth": 1, "size": 28, "opacity": 1},
             "encoding": {"x": {"datum": 1.55}, "y": {"datum": -0.0189}}},
            {"data": {"values": [{"t": "ν"}]}, "mark": {"type": "text", "baseline": "alphabetic", "fontSize": 14, "fontStyle": "italic"},
             "encoding": {"x": {"datum": 1.50}, "y": {"datum": -0.0392}, "text": {"field": "t"}}},
            {"data": {"values": [{"t": "b"}]}, "mark": {"type": "text", "baseline": "alphabetic", "fontSize": 10},
             "encoding": {"x": {"datum": 1.60}, "y": {"datum": -0.0416}, "text": {"field": "t"}}}
          ]
        },
        {"data": {"values": [{}]}, "mark": {"type": "point", "opacity": 0},
         "encoding": {"y": {"datum": 0, "type": "quantitative", "scale": {"domain": [-0.1147, 0.5735], "nice": false, "zero": false},
                            "axis": {"orient": "right", "values": [0, 0.2, 0.4], "format": ".1f", "grid": false, "tickSize": 4, "labelPadding": 3, "title": null}}}}
      ],
      "resolve": {"scale": {"y": "independent"}}
    }
  ],
  "spacing": 0,
  "bounds": "flush",
  "config": {
    "font": "DejaVu Sans",
    "view": {"stroke": "black", "strokeWidth": 1},
    "axis": {"labelFontSize": 13.5, "labelColor": "black", "tickColor": "black", "titleFontSize": 13.5, "titleFontWeight": "normal", "titleColor": "black", "domain": false, "labelFlush": false},
    "legend": {"labelColor": "black"},
    "text": {"color": "black"}
  }
}
